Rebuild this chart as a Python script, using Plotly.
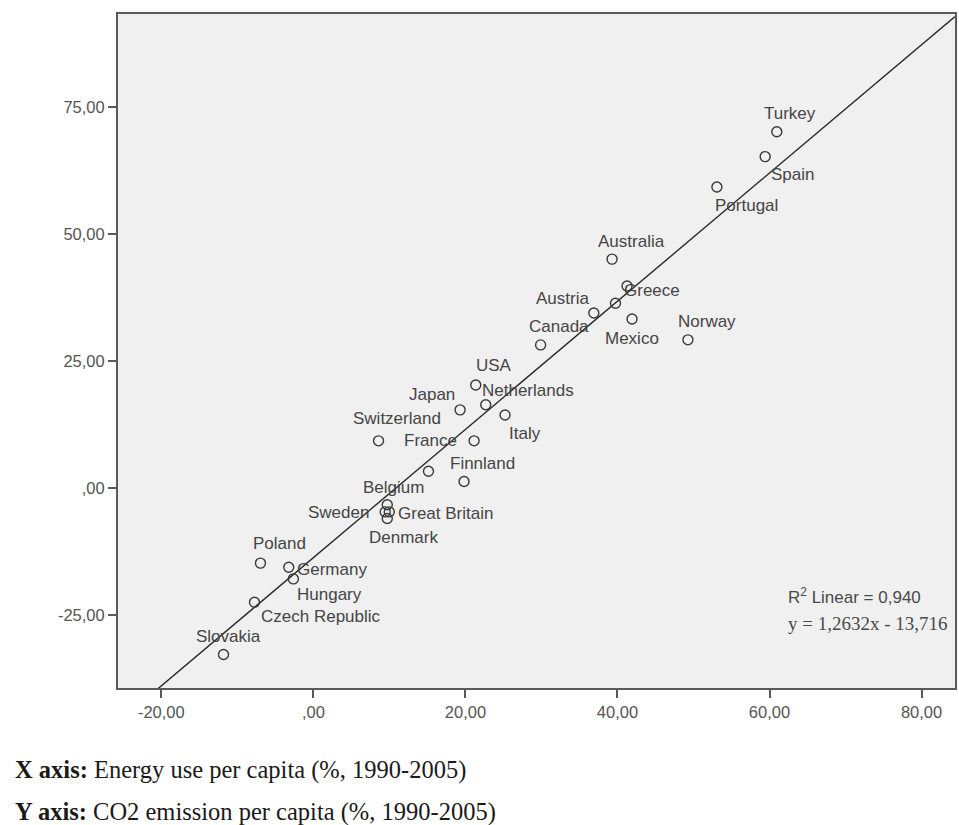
import plotly.graph_objects as go

# ---- data ----
countries = ["Turkey", "Spain", "Portugal", "Australia", "Greece", "", "Austria", "Mexico",
             "Norway", "Canada", "USA", "Netherlands", "Japan", "Italy", "Switzerland",
             "France", "", "Finnland", "Belgium", "Sweden", "Great Britain", "Denmark",
             "Poland", "Germany", "Hungary", "Czech Republic", "Slovakia"]
energy_use = [60.96, 59.43, 53.08, 39.29, 41.26, 39.74, 36.89, 41.92,
              49.27, 29.89, 21.36, 22.67, 19.30, 25.21, 8.57,
              21.14, 15.14, 19.82, 9.72, 9.45, 9.98, 9.72,
              -6.96, -3.24, -2.63, -7.75, -11.82]
co2_emission = [70.2, 65.3, 59.3, 45.1, 39.8, 36.4, 34.5, 33.3,
                29.2, 28.2, 20.3, 16.4, 15.4, 14.4, 9.3,
                9.3, 3.3, 1.3, -3.3, -4.7, -4.7, -6.0,
                -14.8, -15.6, -17.9, -22.5, -32.8]

fit_slope = 1.2632
fit_intercept = -13.716
r_squared_text = "0,940"

x_tickvals = [-20, 0, 20, 40, 60, 80]
x_ticktext = ["-20,00", ",00", "20,00", "40,00", "60,00", "80,00"]
y_tickvals = [-25, 0, 25, 50, 75]
y_ticktext = ["-25,00", ",00", "25,00", "50,00", "75,00"]

# ---- label placement (pixel offsets of label centre from point) ----
label_dx = [13, 27, 30, 19, 25, 0, -31, 0,
            19, 18, 18, 42, -28, 20, 18,
            -44, 0, 18, 6, -47, 56, 16,
            19, 43, 36, 67, 5]
label_dy = [-18, 18, 18, -18, 4, 0, -14, 19,
            -18, -18, -20, -14, -15, 19, -22,
            0, 0, -18, -17, 1, 2, 19,
            -20, 2, 16, 14, -18]

X_RANGE = [-25.7, 84.4]
Y_RANGE = [-39.4, 93.4]

fig = go.Figure()

line_x = list(X_RANGE)
line_y = [fit_slope * v + fit_intercept for v in line_x]
fig.add_trace(go.Scatter(x=line_x, y=line_y, mode="lines",
                         line=dict(color="#2a2a2a", width=1.4), hoverinfo="skip"))

fig.add_trace(go.Scatter(x=energy_use, y=co2_emission, mode="markers",
                         marker=dict(symbol="circle-open", size=10,
                                     color="#3a3a3a", line=dict(width=1.4, color="#3a3a3a")),
                         text=countries, hoverinfo="text"))

annotations = []
for name, xv, yv, dx, dy in zip(countries, energy_use, co2_emission, label_dx, label_dy):
    if not name:
        continue
    annotations.append(dict(x=xv, y=yv, xref="x", yref="y", text=name, showarrow=False,
                            xshift=dx, yshift=-dy,
                            font=dict(family="Liberation Sans, Arial", size=17, color="#454545")))

annotations.append(dict(x=0.7986, y=0.1365, xref="paper", yref="paper", xanchor="left",
                        yanchor="middle", showarrow=False,
                        text="R<sup>2</sup> Linear = " + r_squared_text,
                        font=dict(family="Liberation Sans, Arial", size=17, color="#4a4a4a")))
annotations.append(dict(x=0.7986, y=0.095, xref="paper", yref="paper", xanchor="left",
                        yanchor="middle", showarrow=False,
                        text="y = 1,2632x - 13,716",
                        font=dict(family="Liberation Serif, Times New Roman", size=19, color="#4a4a4a")))

annotations.append(dict(x=-0.125, y=-0.1217, xref="paper", yref="paper", xanchor="left",
                        yanchor="middle", showarrow=False,
                        text="<b>X axis:</b> Energy use per capita (%, 1990-2005)",
                        font=dict(family="Liberation Serif, Times New Roman", size=24.5, color="#1a1a1a")))
annotations.append(dict(x=-0.125, y=-0.1845, xref="paper", yref="paper", xanchor="left",
                        yanchor="middle", showarrow=False,
                        text="<b>Y axis:</b> CO2 emission per capita (%, 1990-2005)",
                        font=dict(family="Liberation Serif, Times New Roman", size=24.5, color="#1a1a1a")))

fig.update_layout(
    width=959, height=825,
    margin=dict(l=118, r=2, t=14, b=137),
    paper_bgcolor="white",
    plot_bgcolor="#f0f0f1",
    showlegend=False,
    annotations=annotations,
    xaxis=dict(range=X_RANGE, tickvals=x_tickvals, ticktext=x_ticktext,
               showgrid=False, zeroline=False, showline=True, mirror=True,
               linecolor="#5a5a5a", linewidth=2, ticks="outside", ticklen=8,
               tickcolor="#5a5a5a", tickwidth=1.5,
               tickfont=dict(family="Liberation Sans, Arial", size=16.5, color="#555555")),
    yaxis=dict(range=Y_RANGE, tickvals=y_tickvals, ticktext=y_ticktext,
               showgrid=False, zeroline=False, showline=True, mirror=True,
               linecolor="#5a5a5a", linewidth=2, ticks="outside", ticklen=8,
               tickcolor="#5a5a5a", tickwidth=1.5,
               tickfont=dict(family="Liberation Sans, Arial", size=16.5, color="#555555")),
)

fig.write_html("out.html", config={"displayModeBar": False},
               post_script="document.body.style.margin='0';document.body.style.padding='0';document.body.style.overflow='hidden';")
